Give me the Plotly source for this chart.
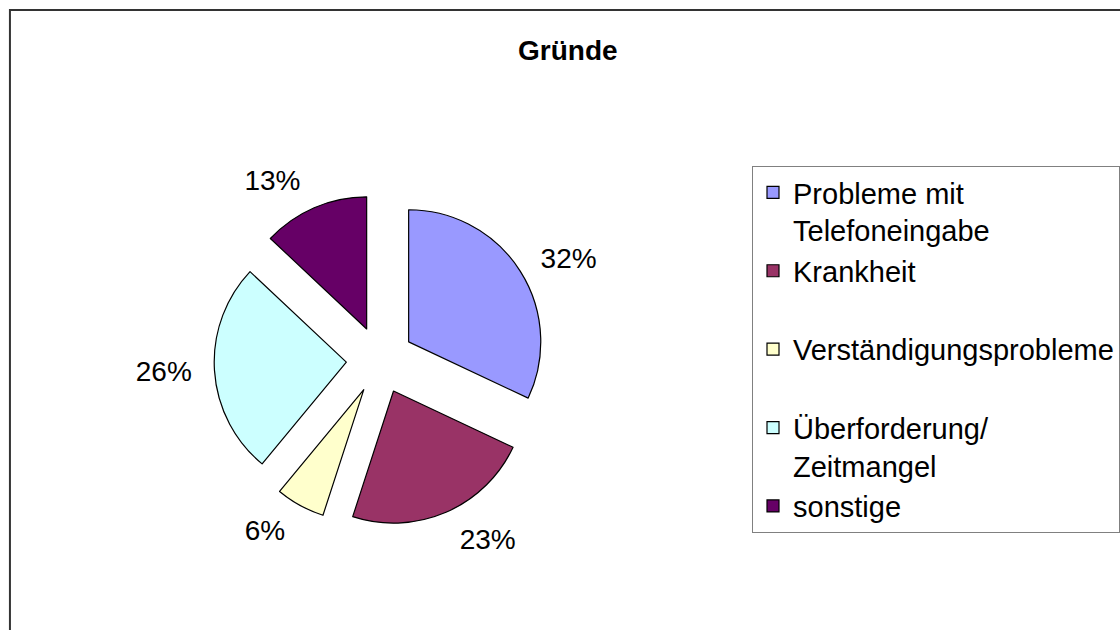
import plotly.graph_objects as go

categories = ["Probleme mit<br>Telefoneingabe", "Krankheit<br> ", "Verständigungsprobleme<br> ",
              "Überforderung/<br>Zeitmangel", "sonstige"]
values = [32, 23, 6, 26, 13]
colors = ["#9999FF", "#993366", "#FFFFCC", "#CCFFFF", "#660066"]
title_text = "Gründe"

FONT = "Liberation Sans, Arial, sans-serif"

# slice pie (no labels)
fig = go.Figure()
fig.add_trace(go.Pie(
    labels=categories,
    values=values,
    sort=False,
    direction="clockwise",
    rotation=0,
    pull=[0.256] * len(values),
    marker=dict(colors=colors, line=dict(color="#000000", width=1.2)),
    textinfo="none",
    domain=dict(x=[0.1924, 0.4906], y=[0.1635, 0.6937]),
    hoverinfo="label+percent",
))
# concentric transparent pie used only to place the percentage labels a bit further out
fig.add_trace(go.Pie(
    labels=categories,
    values=values,
    sort=False,
    direction="clockwise",
    rotation=0,
    pull=[0.2297] * len(values),
    marker=dict(colors=["rgba(0,0,0,0)"] * len(values), line=dict(width=0)),
    textinfo="percent",
    texttemplate="%{percent:.0%}",
    textposition="outside",
    textfont=dict(family=FONT, size=28, color="#000000"),
    domain=dict(x=[0.1790, 0.5040], y=[0.1397, 0.7175]),
    hoverinfo="skip",
    showlegend=False,
))

fig.update_layout(
    width=1120, height=630,
    margin=dict(l=0, r=0, t=0, b=0),
    paper_bgcolor="#FFFFFF",
    plot_bgcolor="#FFFFFF",
    font=dict(family=FONT, color="#000000"),
    title=dict(text="<b>" + title_text + "</b>", x=0.507, xanchor="center",
               y=1 - 50 / 630, yanchor="middle", font=dict(family=FONT, size=28, color="#000000")),
    legend=dict(
        x=757 / 1120, xanchor="left", y=1 - 166 / 630, yanchor="top",
        bordercolor="#808080", borderwidth=1, bgcolor="#FFFFFF",
        font=dict(family=FONT, size=29, color="#000000"),
        valign="top", traceorder="normal",
    ),
    shapes=[dict(type="rect", xref="paper", yref="paper",
                 x0=10 / 1120, x1=1.05, y0=-0.05, y1=1 - 10 / 630,
                 line=dict(color="#333333", width=2), fillcolor="rgba(0,0,0,0)", layer="below")],
)

fig.write_html("out.html", config={"displayModeBar": False},
               post_script="document.body.style.margin='0';document.body.style.overflow='hidden';")
